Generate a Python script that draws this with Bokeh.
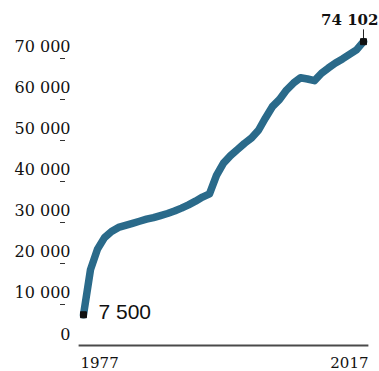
from bokeh.plotting import figure
from bokeh.models import Range1d
from bokeh.core.properties import value
from bokeh.embed import file_html
from bokeh.resources import INLINE

years = [1977, 1978, 1979, 1980, 1981, 1982, 1983, 1984, 1985, 1986,
         1987, 1988, 1989, 1990, 1991, 1992, 1993, 1994, 1995, 1996,
         1997, 1998, 1999, 2000, 2001, 2002, 2003, 2004, 2005, 2006,
         2007, 2008, 2009, 2010, 2011, 2012, 2013, 2014, 2015, 2016, 2017]
values = [7500, 18500, 23500, 26300, 27800, 28800, 29300, 29800, 30300, 30800,
          31200, 31700, 32200, 32800, 33500, 34300, 35200, 36200, 37000, 41500,
          44500, 46300, 47800, 49300, 50600, 52500, 55500, 58300, 60000, 62300,
          64000, 65300, 65000, 64600, 66400, 67700, 68900, 69900, 71000, 72100, 74102]
y_ticks = [0, 10000, 20000, 30000, 40000, 50000, 60000, 70000]
y_tick_labels = ["0", "10 000", "20 000", "30 000", "40 000", "50 000", "60 000", "70 000"]
x_tick_labels = ["1977", "2017"]
start_label = "7 500"
end_label = "74 102"

p = figure(width=379, height=371, x_range=Range1d(1965.143, 2019.286),
           y_range=Range1d(-6341, 84146), x_axis_type=None, y_axis_type=None,
           toolbar_location=None, output_backend="svg", min_border=0)
p.grid.visible = False
p.outline_line_color = None
p.background_fill_color = "white"
p.border_fill_color = "white"

serif = value("DejaVu Serif")
ink = "#111111"

# x axis line
p.segment(x0=[years[0] - 0.7], y0=[0], x1=[years[-1] + 0.7], y1=[0],
          line_color="#4a4a4a", line_width=1.8)

# y tick dashes
p.scatter(x=[years[0] - 3] * (len(y_ticks) - 1), y=y_ticks[1:], marker="dash",
          size=5, line_color="#333333", line_width=1.2)

# y tick labels
p.text(x=[years[0]] * len(y_ticks), y=y_ticks, text=y_tick_labels,
       text_align="right", text_baseline="middle", x_offset=-13, y_offset=-12,
       text_font=serif, text_font_size="16px", text_color=ink)

# x labels
p.text(x=[years[0]], y=[0], text=[x_tick_labels[0]], text_align="left",
       text_baseline="top", x_offset=-3, y_offset=11,
       text_font=serif, text_font_size="15px", text_color=ink)
p.text(x=[years[-1]], y=[0], text=[x_tick_labels[1]], text_align="right",
       text_baseline="top", x_offset=5, y_offset=11,
       text_font=serif, text_font_size="15px", text_color=ink)

# main line
p.line(years, values, line_width=7.5, line_color="#2a6a8a",
       line_join="round", line_cap="round")

# leader to end label
p.segment(x0=[years[-1]], y0=[values[-1]], x1=[years[-1]], y1=[values[-1] + 3000],
          line_color="#222222", line_width=1)

# end markers
p.scatter(x=[years[0], years[-1]], y=[values[0], values[-1]], marker="square",
          size=6, fill_color="#111111", line_color="#111111")

# value labels
p.text(x=[years[0]], y=[values[0]], text=[start_label], text_align="left",
       text_baseline="middle", x_offset=15, y_offset=-3,
       text_font=value("Liberation Sans"), text_font_size="21px", text_color=ink)
p.text(x=[years[-1]], y=[values[-1]], text=[end_label], text_align="right",
       text_baseline="middle", x_offset=15, y_offset=-22,
       text_font=serif, text_font_size="15px", text_font_style="bold", text_color=ink)

open("out.html", "w").write(file_html(p, INLINE))
